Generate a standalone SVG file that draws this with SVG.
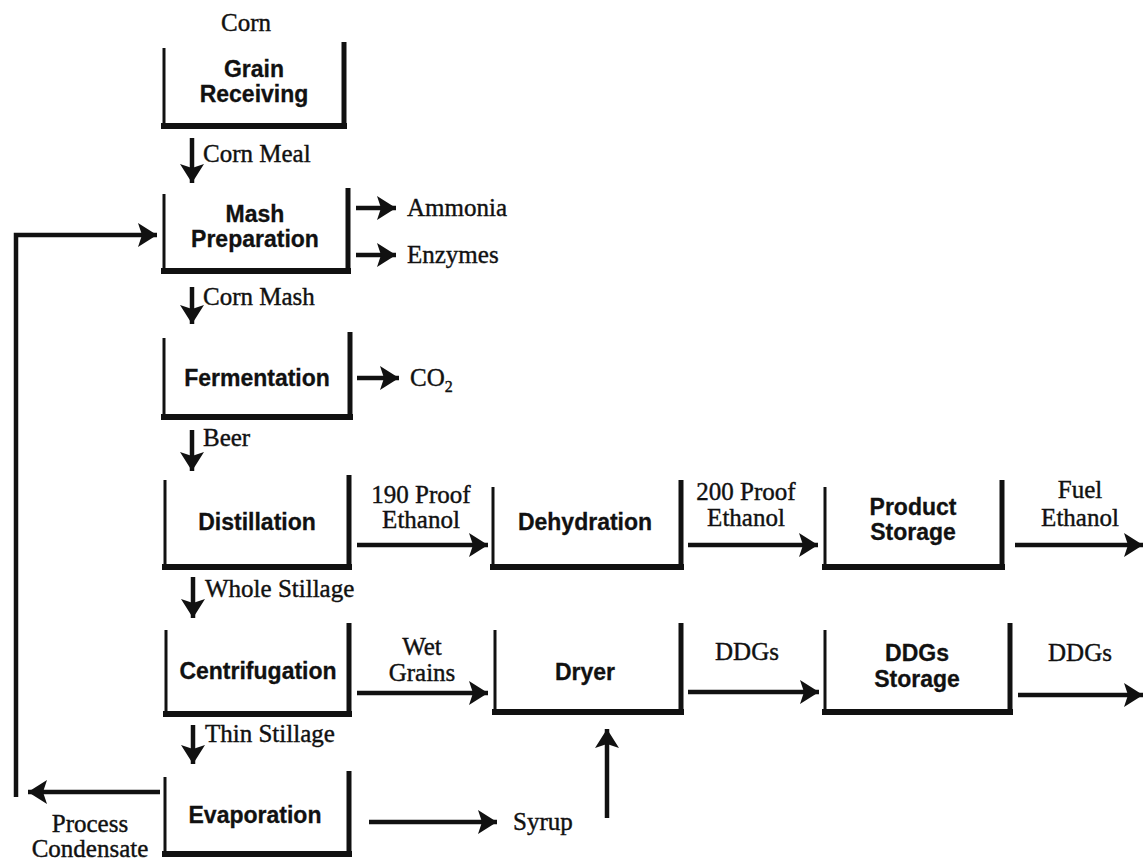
<svg xmlns="http://www.w3.org/2000/svg" width="1143" height="860" viewBox="0 0 1143 860">
<style>
.bl{stroke:#111;stroke-width:3;fill:none}
.br{stroke:#111;stroke-width:5;fill:none}
.bb{stroke:#111;stroke-width:6;fill:none}
.lbl{font-family:"Liberation Sans",Arial,sans-serif;font-weight:bold;font-size:23px;fill:#111;stroke:#111;stroke-width:0.3;text-anchor:middle}
.t{font-family:"Liberation Serif","Times New Roman",serif;font-size:25px;fill:#111;stroke:#111;stroke-width:0.4}
.c{text-anchor:middle}
.ar{stroke:#111;stroke-width:4.5;fill:none;marker-end:url(#ah)}
</style>
<defs>
<marker id="ah" markerUnits="userSpaceOnUse" markerWidth="20" markerHeight="24" refX="19" refY="12" orient="auto">
<path d="M0,0 L19,12 L0,24 L4,12 z" fill="#111"/>
</marker>
</defs>
<rect width="1143" height="860" fill="#fff"/>

<text class="t c" x="246" y="31">Corn</text>

<g id="grain">
<path class="bl" d="M164,48 V127"/><path class="br" d="M344,42 V127"/><path class="bb" d="M161,126 H347"/>
<text class="lbl" x="254" y="77">Grain</text><text class="lbl" x="254" y="102">Receiving</text>
</g>
<g id="mash">
<path class="bl" d="M164,194 V272"/><path class="br" d="M348,188 V272"/><path class="bb" d="M161,271 H351"/>
<text class="lbl" x="255" y="222">Mash</text><text class="lbl" x="255" y="247">Preparation</text>
</g>
<g id="ferm">
<path class="bl" d="M164,338 V418"/><path class="br" d="M350,332 V418"/><path class="bb" d="M161,417 H353"/>
<text class="lbl" x="257" y="386">Fermentation</text>
</g>
<g id="dist">
<path class="bl" d="M165,480 V568"/><path class="br" d="M349,475 V568"/><path class="bb" d="M162,567 H352"/>
<text class="lbl" x="257" y="530">Distillation</text>
</g>
<g id="dehy">
<path class="bl" d="M493,487 V568"/><path class="br" d="M681,480 V568"/><path class="bb" d="M490,567 H684"/>
<text class="lbl" x="585" y="530">Dehydration</text>
</g>
<g id="prod">
<path class="bl" d="M825,487 V568"/><path class="br" d="M1002,480 V568"/><path class="bb" d="M822,567 H1005"/>
<text class="lbl" x="913" y="515">Product</text><text class="lbl" x="913" y="540">Storage</text>
</g>
<g id="centr">
<path class="bl" d="M166,630 V715"/><path class="br" d="M349,623 V715"/><path class="bb" d="M163,714 H352"/>
<text class="lbl" x="258" y="679">Centrifugation</text>
</g>
<g id="dryer">
<path class="bl" d="M495,630 V713"/><path class="br" d="M681,623 V713"/><path class="bb" d="M492,712 H684"/>
<text class="lbl" x="585" y="680">Dryer</text>
</g>
<g id="ddgs">
<path class="bl" d="M825,630 V713"/><path class="br" d="M1010,623 V713"/><path class="bb" d="M822,712 H1013"/>
<text class="lbl" x="917" y="661">DDGs</text><text class="lbl" x="917" y="687">Storage</text>
</g>
<g id="evap">
<path class="bl" d="M165,777 V855"/><path class="br" d="M349,771 V855"/><path class="bb" d="M162,854 H352"/>
<text class="lbl" x="255" y="823">Evaporation</text>
</g>

<g id="connectors">
<path class="ar" d="M192,138 V183"/>
<path class="ar" d="M356,208 H396"/>
<path class="ar" d="M356,255 H396"/>
<path class="ar" d="M192,287 V324"/>
<path class="ar" d="M357,378 H399"/>
<path class="ar" d="M192,430 V471"/>
<path class="ar" d="M357,545 H488"/>
<path class="ar" d="M688,545 H818"/>
<path class="ar" d="M1015,545 H1143"/>
<path class="ar" d="M193,577 V618"/>
<path class="ar" d="M357,693 H488"/>
<path class="ar" d="M688,692 H819"/>
<path class="ar" d="M1018,695 H1143"/>
<path class="ar" d="M193,725 V764"/>
<path class="ar" d="M160,792 H28"/>
<path class="ar" d="M369,822 H497"/>
<path class="ar" d="M607,818 V729"/>
<path class="ar" d="M16,797 V235 H157"/>
</g>

<g id="labels">
<text class="t" x="203" y="162">Corn Meal</text>
<text class="t" x="407" y="216">Ammonia</text>
<text class="t" x="407" y="263">Enzymes</text>
<text class="t" x="203" y="305">Corn Mash</text>
<text class="t" x="410" y="386">CO<tspan font-size="16" dy="6">2</tspan></text>
<text class="t" x="203" y="446">Beer</text>
<text class="t c" x="421" y="503">190 Proof</text>
<text class="t c" x="421" y="528">Ethanol</text>
<text class="t c" x="746" y="500">200 Proof</text>
<text class="t c" x="746" y="526">Ethanol</text>
<text class="t c" x="1080" y="498">Fuel</text>
<text class="t c" x="1080" y="526">Ethanol</text>
<text class="t" x="205" y="597">Whole Stillage</text>
<text class="t c" x="422" y="655">Wet</text>
<text class="t c" x="422" y="681">Grains</text>
<text class="t c" x="747" y="660">DDGs</text>
<text class="t c" x="1080" y="661">DDGs</text>
<text class="t" x="205" y="742">Thin Stillage</text>
<text class="t c" x="90" y="832">Process</text>
<text class="t c" x="90" y="857">Condensate</text>
<text class="t" x="513" y="830">Syrup</text>
</g>
</svg>
